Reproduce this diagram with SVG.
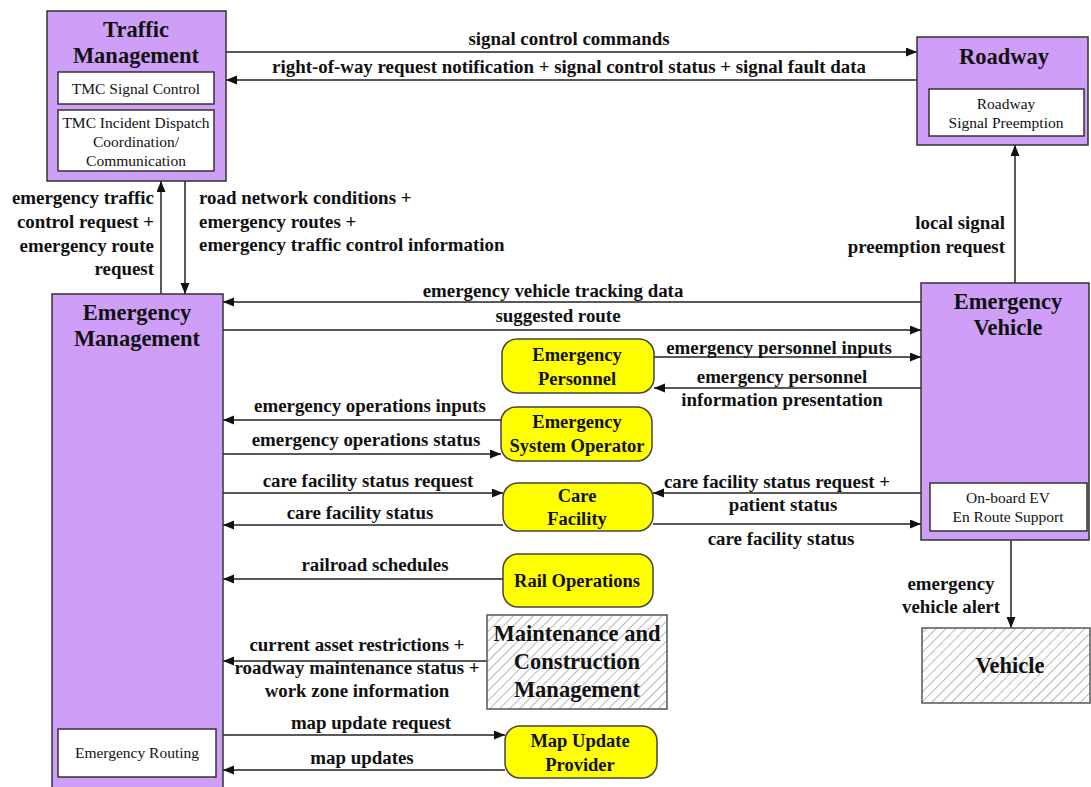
<svg xmlns="http://www.w3.org/2000/svg" width="1091" height="787" viewBox="0 0 1091 787">
  <defs>
    <marker id="arrow" markerUnits="userSpaceOnUse" markerWidth="12" markerHeight="10" refX="11" refY="4.5" orient="auto">
      <path d="M0,0 L11,4.5 L0,9 z" fill="#111"/>
    </marker>
    <pattern id="hatch" patternUnits="userSpaceOnUse" width="7" height="7" patternTransform="rotate(45)">
      <rect width="7" height="7" fill="#ffffff"/>
      <line x1="0" y1="0" x2="0" y2="7" stroke="#b8b8b8" stroke-width="2"/>
    </pattern>
    <style>
      .sys { fill: #cf9ff8; stroke: #333; stroke-width: 1.5; }
      .sub { fill: #ffffff; stroke: #333; stroke-width: 1.5; }
      .term { fill: #ffff00; stroke: #444; stroke-width: 1.5; }
      .ext { fill: url(#hatch); stroke: #555; stroke-width: 1.5; }
      .title { font-family: "Liberation Serif", "Times New Roman", serif; font-weight: bold; font-size: 22.5px; fill: #111; text-anchor: middle; }
      .tname { font-family: "Liberation Serif", "Times New Roman", serif; font-weight: bold; font-size: 18.5px; fill: #111; text-anchor: middle; }
      .subtxt { font-family: "Liberation Serif", "Times New Roman", serif; font-size: 15.5px; fill: #111; text-anchor: middle; }
      .lbl { font-family: "Liberation Serif", "Times New Roman", serif; font-weight: bold; font-size: 18.9px; fill: #111; text-anchor: middle; }
      .lbl-r { text-anchor: end; }
      .lbl-l { text-anchor: start; }
      .flow { fill: none; stroke: #222; stroke-width: 1.5; marker-end: url(#arrow); }
    </style>
  </defs>

  <rect width="1091" height="787" fill="#ffffff"/>

  <!-- connectors -->
  <g id="connectors">
    <!-- Traffic Management <-> Roadway -->
    <line class="flow" x1="226" y1="52" x2="917" y2="52"/>
    <text class="lbl" x="569" y="45">signal control commands</text>
    <line class="flow" x1="917" y1="80" x2="226" y2="80"/>
    <text class="lbl" x="569" y="73">right-of-way request notification + signal control status + signal fault data</text>

    <!-- Emergency Management <-> Traffic Management -->
    <line class="flow" x1="161" y1="294" x2="161" y2="181"/>
    <text class="lbl lbl-r" x="154" y="204">emergency traffic</text>
    <text class="lbl lbl-r" x="154" y="228">control request +</text>
    <text class="lbl lbl-r" x="154" y="252">emergency route</text>
    <text class="lbl lbl-r" x="154" y="275">request</text>
    <line class="flow" x1="185" y1="181" x2="185" y2="294"/>
    <text class="lbl lbl-l" x="199" y="204">road network conditions +</text>
    <text class="lbl lbl-l" x="199" y="228">emergency routes +</text>
    <text class="lbl lbl-l" x="199" y="251">emergency traffic control information</text>

    <!-- Emergency Vehicle -> Roadway -->
    <line class="flow" x1="1015" y1="283" x2="1015" y2="145"/>
    <text class="lbl lbl-r" x="1005" y="229">local signal</text>
    <text class="lbl lbl-r" x="1005" y="253">preemption request</text>

    <!-- Emergency Vehicle <-> Emergency Management -->
    <line class="flow" x1="921" y1="302" x2="223" y2="302"/>
    <text class="lbl" x="553" y="297">emergency vehicle tracking data</text>
    <line class="flow" x1="223" y1="330" x2="921" y2="330"/>
    <text class="lbl" x="558" y="322">suggested route</text>

    <!-- Emergency Personnel <-> Emergency Vehicle -->
    <line class="flow" x1="654" y1="357" x2="921" y2="357"/>
    <text class="lbl" x="779" y="354">emergency personnel inputs</text>
    <line class="flow" x1="921" y1="388" x2="654" y2="388"/>
    <text class="lbl" x="782" y="383">emergency personnel</text>
    <text class="lbl" x="782" y="406">information presentation</text>

    <!-- Emergency System Operator <-> Emergency Management -->
    <line class="flow" x1="501" y1="420" x2="223" y2="420"/>
    <text class="lbl" x="370" y="412">emergency operations inputs</text>
    <line class="flow" x1="223" y1="454" x2="501" y2="454"/>
    <text class="lbl" x="366" y="446">emergency operations status</text>

    <!-- Care Facility <-> Emergency Management -->
    <line class="flow" x1="223" y1="493" x2="503" y2="493"/>
    <text class="lbl" x="368" y="487">care facility status request</text>
    <line class="flow" x1="503" y1="525" x2="223" y2="525"/>
    <text class="lbl" x="360" y="519">care facility status</text>

    <!-- Care Facility <-> Emergency Vehicle -->
    <line class="flow" x1="921" y1="493" x2="653" y2="493"/>
    <text class="lbl" x="777" y="488">care facility status request +</text>
    <text class="lbl" x="783" y="511">patient status</text>
    <line class="flow" x1="653" y1="524" x2="921" y2="524"/>
    <text class="lbl" x="781" y="545">care facility status</text>

    <!-- Rail Operations -> Emergency Management -->
    <line class="flow" x1="503" y1="579" x2="223" y2="579"/>
    <text class="lbl" x="375" y="571">railroad schedules</text>

    <!-- Maintenance and Construction Management -> Emergency Management -->
    <line class="flow" x1="487" y1="661" x2="223" y2="661"/>
    <text class="lbl" x="357" y="651">current asset restrictions +</text>
    <text class="lbl" x="357" y="674">roadway maintenance status +</text>
    <text class="lbl" x="357" y="697">work zone information</text>

    <!-- Map Update Provider <-> Emergency Management -->
    <line class="flow" x1="223" y1="735" x2="505" y2="735"/>
    <text class="lbl" x="371" y="729">map update request</text>
    <line class="flow" x1="505" y1="770" x2="223" y2="770"/>
    <text class="lbl" x="362" y="764">map updates</text>

    <!-- Emergency Vehicle -> Vehicle -->
    <line class="flow" x1="1011" y1="540" x2="1011" y2="628"/>
    <text class="lbl" x="951" y="590">emergency</text>
    <text class="lbl" x="951" y="613">vehicle alert</text>
  </g>

  <!-- Traffic Management -->
  <g id="traffic-management">
    <rect class="sys" x="47" y="11" width="179" height="170"/>
    <text class="title" x="136" y="37">Traffic</text>
    <text class="title" x="136" y="63">Management</text>
    <rect class="sub" x="58" y="72" width="156" height="32"/>
    <text class="subtxt" x="136" y="94">TMC Signal Control</text>
    <rect class="sub" x="58" y="110" width="156" height="61"/>
    <text class="subtxt" x="136" y="128">TMC Incident Dispatch</text>
    <text class="subtxt" x="136" y="147">Coordination/</text>
    <text class="subtxt" x="136" y="166">Communication</text>
  </g>

  <!-- Roadway -->
  <g id="roadway">
    <rect class="sys" x="917" y="37" width="171" height="108"/>
    <text class="title" x="1004" y="64">Roadway</text>
    <rect class="sub" x="929" y="89" width="155" height="47"/>
    <text class="subtxt" x="1006" y="109">Roadway</text>
    <text class="subtxt" x="1006" y="128">Signal Preemption</text>
  </g>

  <!-- Emergency Management -->
  <g id="emergency-management">
    <rect class="sys" x="52" y="294" width="171" height="510"/>
    <text class="title" x="137" y="320">Emergency</text>
    <text class="title" x="137" y="346">Management</text>
    <rect class="sub" x="58" y="729" width="158" height="48"/>
    <text class="subtxt" x="137" y="758">Emergency Routing</text>
  </g>

  <!-- Emergency Vehicle -->
  <g id="emergency-vehicle">
    <rect class="sys" x="921" y="283" width="168" height="257"/>
    <text class="title" x="1008" y="309">Emergency</text>
    <text class="title" x="1008" y="335">Vehicle</text>
    <rect class="sub" x="930" y="483" width="157" height="48"/>
    <text class="subtxt" x="1008" y="503">On-board EV</text>
    <text class="subtxt" x="1008" y="522">En Route Support</text>
  </g>

  <!-- Terminators -->
  <g id="emergency-personnel">
    <rect class="term" x="502" y="339" width="152" height="54" rx="15"/>
    <text class="tname" x="577" y="361">Emergency</text>
    <text class="tname" x="577" y="385">Personnel</text>
  </g>

  <g id="emergency-system-operator">
    <rect class="term" x="501" y="407" width="151" height="54" rx="15"/>
    <text class="tname" x="577" y="428">Emergency</text>
    <text class="tname" x="577" y="452">System Operator</text>
  </g>

  <g id="care-facility">
    <rect class="term" x="503" y="483" width="150" height="48" rx="15"/>
    <text class="tname" x="577" y="502">Care</text>
    <text class="tname" x="577" y="525">Facility</text>
  </g>

  <g id="rail-operations">
    <rect class="term" x="503" y="554" width="150" height="53" rx="15"/>
    <text class="tname" x="577" y="587">Rail Operations</text>
  </g>

  <g id="map-update-provider">
    <rect class="term" x="505" y="726" width="152" height="52" rx="15"/>
    <text class="tname" x="580" y="747">Map Update</text>
    <text class="tname" x="580" y="771">Provider</text>
  </g>

  <!-- External systems -->
  <g id="maintenance-construction-management">
    <rect class="ext" x="487" y="615" width="180" height="94"/>
    <text class="title" x="577" y="641">Maintenance and</text>
    <text class="title" x="577" y="669">Construction</text>
    <text class="title" x="577" y="697">Management</text>
  </g>

  <g id="vehicle">
    <rect class="ext" x="922" y="628" width="168" height="75"/>
    <text class="title" x="1010" y="673">Vehicle</text>
  </g>
</svg>
